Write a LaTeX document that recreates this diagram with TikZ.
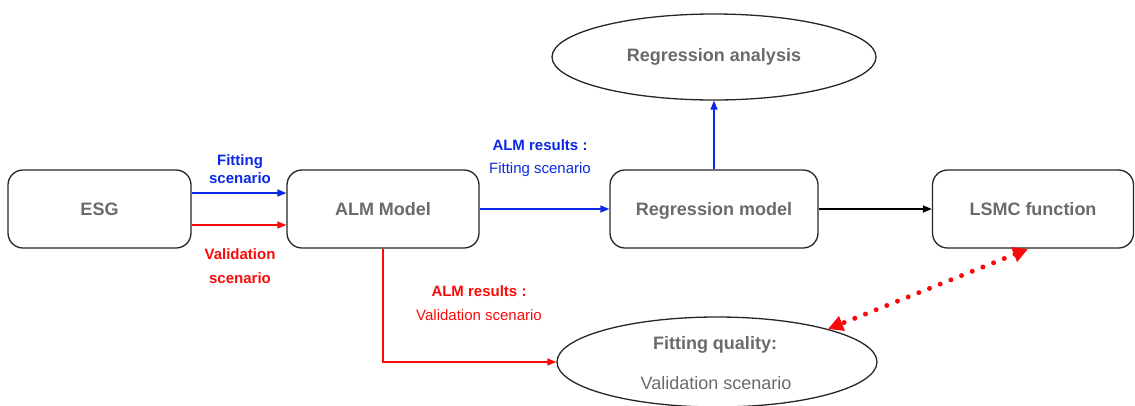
\documentclass[tikz,border=0pt]{standalone}
\usepackage{fontspec}
\setmainfont{Liberation Sans}
\usetikzlibrary{arrows.meta,shapes.geometric}
\definecolor{txtgray}{RGB}{105,106,110}
\definecolor{myblue}{RGB}{10,40,230}
\definecolor{myred}{RGB}{250,10,10}
\tikzset{
  box/.style={draw=black!85,line width=1.3pt,rounded corners=15pt,minimum height=78pt,
    font=\fontsize{18}{20}\selectfont\bfseries,text=txtgray,inner sep=0pt,
    text height=13pt,text depth=0pt},
  ell/.style={draw=black!85,line width=1.3pt,ellipse,inner sep=0pt},
  arr/.style={line width=1.4pt,-{Triangle[length=9pt,width=7pt]}},
  lbl/.style={font=\fontsize{15}{17}\selectfont,inner sep=0pt},
  blbl/.style={font=\fontsize{15}{17}\selectfont\bfseries,inner sep=0pt},
  big/.style={font=\fontsize{18}{20}\selectfont,text=txtgray,inner sep=0pt}
}
\begin{document}
\begin{tikzpicture}[x=1pt,y=-1pt]
\useasboundingbox (0,0) rectangle (1135,405);
\node[box,minimum width=183pt] (esg) at (99.5,209) {ESG};
\node[box,minimum width=192pt] (alm) at (383,209) {ALM Model};
\node[box,minimum width=208pt] (reg) at (714,209) {Regression model};
\node[box,minimum width=201pt] (lsmc) at (1033,209) {LSMC function};
\node[ell,minimum width=324pt,minimum height=86pt] (ra) at (714,57) {};
\node[big,font=\fontsize{18}{20}\selectfont\bfseries] (ratxt) at (714,57) {Regression analysis};
\begin{scope}
\clip (0,0) rectangle (1135,405);
\node[ell,minimum width=320pt,minimum height=90pt] (fq) at (717,362) {};
\end{scope}
\node[big,font=\fontsize{18}{20}\selectfont\bfseries] (fq1) at (715,345) {Fitting quality:};
\node[big] (fq2) at (716,383) {Validation scenario};

% ESG -> ALM
\coordinate (e1) at ([yshift=16pt]esg.east);
\coordinate (e2) at ([yshift=-16pt]esg.east);
\draw[arr,myblue] (e1) -- (e1 -| alm.west);
\draw[arr,myred] (e2) -- (e2 -| alm.west);
\node[blbl,text=myblue] (l1a) at (240,162) {Fitting};
\node[blbl,text=myblue] (l1b) at (240,178) {scenario};
\node[blbl,text=myred] (l2a) at (240,254) {Validation};
\node[blbl,text=myred] (l2b) at (240,278) {scenario};

% ALM -> Regression model
\draw[arr,myblue] (alm.east) -- (reg.west);
\node[blbl,text=myblue] (l3a) at (540,145) {ALM results :};
\node[lbl,text=myblue] (l3b) at (540,170) {Fitting scenario};

% Regression model -> Regression analysis
\draw[arr,myblue] (reg.north) -- (ra.south);

% Regression model -> LSMC
\draw[arr,black] (reg.east) -- (lsmc.west);

% ALM -> Fitting quality
\draw[arr,myred] (alm.south) |- (fq.west);
\node[blbl,text=myred] (l4a) at (479,291) {ALM results :};
\node[lbl,text=myred] (l4b) at (479,315) {Validation scenario};

% dotted double arrow
\coordinate (d1) at (1028,249);
\coordinate (d2) at (828,329);
\draw[myred,line width=5pt,line cap=round,dash pattern=on 0pt off 11.5pt,
  {Triangle[length=15pt,width=15pt]}-{Triangle[length=15pt,width=15pt]}] (d1) -- (d2);
\end{tikzpicture}
\end{document}
